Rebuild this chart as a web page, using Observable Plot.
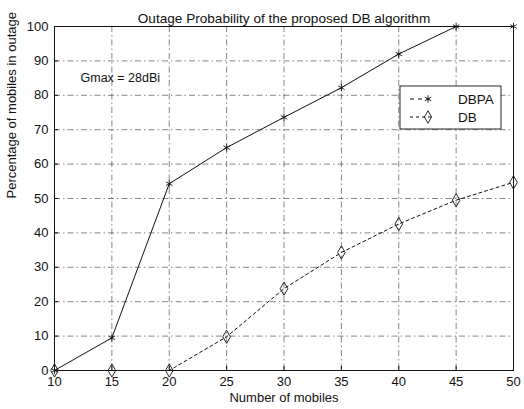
<!DOCTYPE html>
<html><head><meta charset="utf-8">
<script src="https://cdn.jsdelivr.net/npm/d3@7"></script>
<script src="https://cdn.jsdelivr.net/npm/@observablehq/plot@0.6"></script>
<style>
body{margin:0;background:#fff;}
svg{font-family:"Liberation Sans",Arial,sans-serif;}
</style></head>
<body><div id="chart"></div>
<script>
const mobiles = [10, 15, 20, 25, 30, 35, 40, 45, 50];
const dbpa = [0, 9.5, 54.3, 64.8, 73.6, 82.2, 92, 100, 100];
const db = [0, 0, 0, 9.8, 23.8, 34.3, 42.6, 49.5, 54.7];
const xTicks = [10, 15, 20, 25, 30, 35, 40, 45, 50];
const yTicks = [0, 10, 20, 30, 40, 50, 60, 70, 80, 90, 100];
const seriesNames = ["DBPA", "DB"];
const titleText = "Outage Probability of the proposed DB algorithm";
const xLabel = "Number of mobiles";
const yLabel = "Percentage of mobiles in outage";
const note = "Gmax = 28dBi";

const rowsA = mobiles.map((m, i) => ({x: m, y: dbpa[i]}));
const rowsB = mobiles.map((m, i) => ({x: m, y: db[i]}));
const gridStyle = {stroke: "#333", strokeWidth: 0.8, strokeOpacity: 0.75, strokeDasharray: "6,3,1.5,3"};

const chart = Plot.plot({
  width: 524, height: 409,
  marginLeft: 54, marginRight: 11, marginTop: 26, marginBottom: 39,
  style: {fontFamily: "Liberation Sans, Arial, sans-serif", fontSize: "13px", color: "#111", background: "#fff"},
  x: {domain: [10, 50], ticks: xTicks, label: null},
  y: {domain: [0, 100], ticks: yTicks, label: null},
  marks: [
    Plot.ruleX(xTicks.slice(1, -1), {...gridStyle}),
    Plot.ruleY(yTicks.slice(1, -1), {...gridStyle}),
    Plot.axisX({ticks: xTicks, tickSize: -4, tickPadding: 10, fontSize: 13, label: null}),
    Plot.axisY({ticks: yTicks, tickSize: -4, tickPadding: 10, fontSize: 13, label: null}),
    Plot.frame({stroke: "#111", strokeWidth: 1}),
    Plot.line(rowsB, {x: "x", y: "y", stroke: "#111", strokeWidth: 1, strokeDasharray: "3,3"}),
    Plot.dot(rowsB, {x: "x", y: "y", symbol: "diamond", r: 4, stroke: "#111", strokeWidth: 0.9, fill: "none"}),
    Plot.line(rowsA, {x: "x", y: "y", stroke: "#111", strokeWidth: 1}),
    Plot.dot(rowsA, {x: "x", y: "y", symbol: "asterisk", r: 3.5, stroke: "#111", strokeWidth: 0.9}),
    Plot.text([titleText], {frameAnchor: "top", dy: -13, fontSize: 13.6, fill: "#111"}),
    Plot.text([xLabel], {frameAnchor: "bottom", dy: 31, fontSize: 13, fill: "#111"}),
    Plot.text([yLabel], {frameAnchor: "left", dx: -43, rotate: -90, fontSize: 13, fill: "#111"}),
    Plot.text([note], {frameAnchor: "top-left", dx: 26, dy: 47, textAnchor: "start", fontSize: 12.5, fill: "#111"})
  ]
});
document.getElementById("chart").append(chart);

// legend
const svg = d3.select(chart);
const lg = svg.append("g").attr("text-anchor", "start");
lg.append("rect").attr("x", 400).attr("y", 86).attr("width", 101).attr("height", 43)
  .attr("fill", "#fff").attr("stroke", "#111").attr("stroke-width", 0.9);
const entries = [
  {name: seriesNames[0], y: 99, dash: "4,4", sym: d3.symbolAsterisk},
  {name: seriesNames[1], y: 117, dash: "3,3", sym: d3.symbolDiamond}
];
entries.forEach(e => {
  lg.append("line").attr("x1", 410).attr("x2", 434).attr("y1", e.y).attr("y2", e.y)
    .attr("stroke", "#111").attr("stroke-width", 1).attr("stroke-dasharray", e.dash);
  lg.append("path").attr("d", d3.symbol(e.sym, e.sym === d3.symbolAsterisk ? 40 : 45)())
    .attr("transform", `translate(428,${e.y})`).attr("fill", "none").attr("stroke", "#111").attr("stroke-width", 0.9);
  lg.append("text").attr("x", 458).attr("y", e.y + 5).attr("text-anchor", "start")
    .attr("font-size", 13.5).attr("fill", "#111").text(e.name);
});
</script></body></html>
